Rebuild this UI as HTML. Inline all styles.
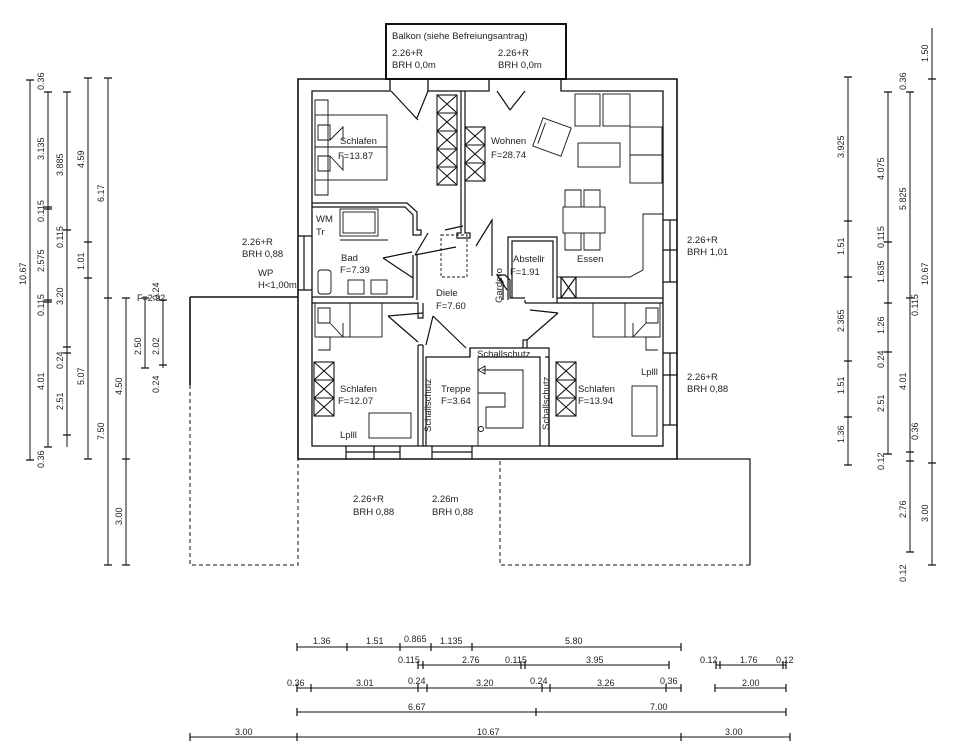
<!DOCTYPE html>
<html><head><meta charset="utf-8"><style>
html,body{margin:0;padding:0;background:#fff;}
svg{display:block;}
text{font-family:"Liberation Sans",sans-serif;font-size:9.5px;fill:#222;stroke:none;font-weight:normal;}
.r text{font-size:9px;}
</style></head><body>
<svg width="960" height="752" viewBox="0 0 960 752" xmlns="http://www.w3.org/2000/svg">
<g fill="none" stroke="#111" stroke-width="1.2">
<!-- outer walls -->
<path d="M390,79 H298 V459 H677 V79 H561 M428,79 H489" stroke-width="1.6"/>
<path d="M390,79 V91 H312 V446 H663 V91 H561 V79 M428,79 V91 H489 V79" stroke-width="1.3"/>
<!-- balcony -->
<rect x="386" y="24" width="180" height="55" stroke-width="2"/>
<!-- windows on left -->
<path d="M304,236 V290 M298,236 H312 M298,290 H312"/>
<!-- windows right -->
<path d="M670,220 V282 M663,220 H677 M663,250 H677 M663,282 H677"/>
<path d="M670,353 V425 M663,353 H677 M663,375 H677 M663,425 H677"/>
<!-- bottom windows -->
<path d="M346,446 V459 M374,446 V459 M400,446 V459 M346,452 H400"/>
<path d="M432,446 V459 M472,446 V459 M432,452 H472"/>
<!-- middle wall upper -->
<path d="M461,91 V233 H457 V238 H470 V233 H465 V91"/>
<!-- upper schlafen / bad wall -->
<path d="M312,203 H407 L417,212 V230 H421 V235 H413 V215 L405,207 H312"/>
<!-- bad right / lower walls -->
<path d="M413,255 V297 H312 M417,255 V300 M312,303 H418 V318 H423 V303"/>
<path d="M418,345 V446 M423,345 V446 M423,345 H418"/>
<!-- treppe -->
<path d="M426,446 V357 H470 V348 H549 V446 M540,446 V357 H478"/>
<path d="M470,348 V357"/>
<path d="M523,348 V340 H527 V348"/>
<!-- right schlafen -->
<path d="M549,446 H663 M549,357 V446 M549,357 H545 M525,303 H663 M525,303 V300"/>
<path d="M503,300 V282 L497,275 H505 L510,280 V298 H525"/>
<!-- abstellr -->
<path d="M508,300 V237 H557 V300 M512,298 V241 H553 V298 M557,298 H663 M557,303 V300"/>
<rect x="561" y="277" width="15" height="21"/><path d="M561,277 L576,298 M576,277 L561,298"/>
<!-- terraces -->
<path d="M190,297 H298 M190,297 V385" stroke-width="1.6"/>
<path d="M190,385 V565 H298 V459" stroke-dasharray="4,3" stroke-width="1"/>
<path d="M677,459 H750 V565" stroke-width="1.2"/>
<path d="M750,565 H500 V459" stroke-dasharray="4,3" stroke-width="1"/>
<!-- doors -->
<path d="M391,91 L418,120 M428,91 L417,118"/>
<path d="M497,91 L510,110 M525,91 L510,110"/>
<path d="M428,233 L415,255 M415,255 L456,247"/>
<path d="M383,258 L413,278 M383,258 L412,252"/>
<path d="M445,230 L463,226 M476,246 L492,220 L492,276"/>
<path d="M388,316 L418,342 M388,316 L423,313"/>
<path d="M433,316 L426,345 M433,316 L466,348"/>
<path d="M558,313 L527,340 M558,313 L530,310"/>
<path d="M497,275 L507,290"/>
<!-- diele dashed -->
<rect x="441" y="235" width="26" height="42" stroke-dasharray="3,2" stroke-width="0.9"/>
<!-- wardrobes -->
<g stroke-width="1.1">
<rect x="437" y="95" width="20" height="90"/>
<path d="M437,113 H457 M437,131 H457 M437,149 H457 M437,167 H457 M437,95 L457,113 M457,95 L437,113 M437,113 L457,131 M457,113 L437,131 M437,131 L457,149 M457,131 L437,149 M437,149 L457,167 M457,149 L437,167 M437,167 L457,185 M457,167 L437,185"/>
<rect x="465" y="127" width="20" height="54"/>
<path d="M465,145 H485 M465,163 H485 M465,127 L485,145 M485,127 L465,145 M465,145 L485,163 M485,145 L465,163 M465,163 L485,181 M485,163 L465,181"/>
<rect x="314" y="362" width="20" height="54"/>
<path d="M314,380 H334 M314,398 H334 M314,362 L334,380 M334,362 L314,380 M314,380 L334,398 M334,380 L314,398 M314,398 L334,416 M334,398 L314,416"/>
<rect x="556" y="362" width="20" height="54"/>
<path d="M556,380 H576 M556,398 H576 M556,362 L576,380 M576,362 L556,380 M556,380 L576,398 M576,380 L556,398 M556,398 L576,416 M576,398 L556,416"/>
</g>
<!-- beds -->
<g stroke-width="0.9">
<rect x="315" y="115" width="72" height="65"/><path d="M315,147 H387 M315,100 H328 V195 H315 Z M328,115 V180 M318,125 H330 V140 H318 Z M318,156 H330 V171 H318 Z M330,140 L343,127 V140 M330,156 L343,170 V156"/>
<rect x="315" y="303" width="67" height="34"/><path d="M318,308 H330 V323 H318 Z M330,323 L343,337 M343,323 V337 M318,337 H330 V350 H318 M350,303 V337"/>
<rect x="593" y="303" width="67" height="34"/><path d="M646,308 H658 V323 H646 Z M646,323 L633,337 M633,323 V337 M658,337 H646 V350 H658 M625,303 V337"/>
<rect x="369" y="413" width="42" height="25"/>
<rect x="632" y="386" width="25" height="50"/>
<!-- bad fixtures -->
<rect x="340" y="209" width="38" height="27"/><rect x="343" y="212" width="32" height="21"/>
<path d="M340,240 H388"/>
<rect x="318" y="270" width="13" height="24" rx="3"/>
<rect x="348" y="280" width="16" height="14"/><rect x="371" y="280" width="16" height="14"/>
<!-- living -->
<rect x="575" y="94" width="25" height="32"/><rect x="603" y="94" width="27" height="32"/>
<rect x="630" y="127" width="32" height="28"/><rect x="630" y="155" width="32" height="28"/>
<rect x="578" y="143" width="42" height="24"/>
<g transform="rotate(20 552 137)"><rect x="537" y="122" width="30" height="30"/><path d="M541,126 V148"/></g>
<rect x="563" y="207" width="42" height="26"/>
<path d="M565,207 V190 H581 V207 M584,207 V190 H600 V207 M565,233 V250 H581 V233 M584,233 V250 H600 V233"/>
<path d="M663,214 H643 V270 L630,277 H557"/>
<!-- stairs -->
<path d="M478,357 V446 M482,370 H523 V428 H486 V407 H505 V393 H478"/>
<path d="M478,370 L485,366 V374 Z"/>
<circle cx="481" cy="429" r="2.5"/>
</g>
<!-- dimension lines -->
<g stroke="#111" stroke-width="1">
<path d="M30,80 V460 M48,92 V447 M67,92 V447 M88,78 V459 M108,78 V565 M126,298 V565 M145,298 V368 M163,300 V368"/>
<path d="M848,77 V465 M888,92 V454 M910,92 V552 M932,28 V565"/>
<path d="M297,647 H681 M418,665 H669 M716,665 H786 M297,688 H681 M715,688 H786 M297,712 H786 M190,737 H790"/>
</g>
<g stroke="#111" stroke-width="1.2">
<path d="M26,80h8M26,460h8 M44,92h8M44,207h8M44,209h8M44,300h8M44,302h8M44,447h8 M63,92h8M63,230h8M63,347h8M63,353h8M63,435h8 M84,78h8M84,242h8M84,278h8M84,459h8 M104,78h8M104,298h8M104,565h8 M122,298h8M122,459h8M122,565h8 M141,298h8M141,368h8 M159,300h8M159,365h8"/>
<path d="M844,77h8M844,221h8M844,277h8M844,361h8M844,417h8M844,465h8 M884,92h8M884,242h8M884,303h8M884,352h8M884,454h8 M906,92h8M906,298h8M906,452h8M906,461h8M906,552h8 M928,79h8M928,463h8M928,565h8"/>
<path d="M297,643v8M347,643v8M400,643v8M431,643v8M472,643v8M681,643v8 M418,661v8M423,661v8M521,661v8M525,661v8M669,661v8M716,661v8M720,661v8M783,661v8M786,661v8 M297,684v8M311,684v8M418,684v8M427,684v8M542,684v8M550,684v8M666,684v8M681,684v8M715,684v8M786,684v8 M297,708v8M536,708v8M786,708v8 M190,733v8M297,733v8M681,733v8M790,733v8"/>
</g>
<!-- vertical dim labels -->
<g class="r">
<text transform="translate(26,285) rotate(-90)">10.67</text>
<text transform="translate(44,90) rotate(-90)">0.36</text>
<text transform="translate(44,160) rotate(-90)">3.135</text>
<text transform="translate(44,222) rotate(-90)">0.115</text>
<text transform="translate(44,272) rotate(-90)">2.575</text>
<text transform="translate(44,316) rotate(-90)">0.115</text>
<text transform="translate(44,390) rotate(-90)">4.01</text>
<text transform="translate(44,468) rotate(-90)">0.36</text>
<text transform="translate(63,176) rotate(-90)">3.885</text>
<text transform="translate(63,248) rotate(-90)">0.115</text>
<text transform="translate(63,305) rotate(-90)">3.20</text>
<text transform="translate(63,369) rotate(-90)">0.24</text>
<text transform="translate(63,410) rotate(-90)">2.51</text>
<text transform="translate(84,168) rotate(-90)">4.59</text>
<text transform="translate(84,270) rotate(-90)">1.01</text>
<text transform="translate(84,385) rotate(-90)">5.07</text>
<text transform="translate(104,202) rotate(-90)">6.17</text>
<text transform="translate(104,440) rotate(-90)">7.50</text>
<text transform="translate(122,395) rotate(-90)">4.50</text>
<text transform="translate(122,525) rotate(-90)">3.00</text>
<text transform="translate(141,355) rotate(-90)">2.50</text>
<text transform="translate(159,355) rotate(-90)">2.02</text>
<text transform="translate(159,393) rotate(-90)">0.24</text>
<text transform="translate(159,300) rotate(-90)">0.24</text>
<text x="137" y="301">F=2.92</text>
<text transform="translate(844,158) rotate(-90)">3.925</text>
<text transform="translate(844,255) rotate(-90)">1.51</text>
<text transform="translate(844,332) rotate(-90)">2.365</text>
<text transform="translate(844,394) rotate(-90)">1.51</text>
<text transform="translate(844,443) rotate(-90)">1.36</text>
<text transform="translate(884,180) rotate(-90)">4.075</text>
<text transform="translate(884,248) rotate(-90)">0.115</text>
<text transform="translate(884,283) rotate(-90)">1.635</text>
<text transform="translate(884,334) rotate(-90)">1.26</text>
<text transform="translate(884,368) rotate(-90)">0.24</text>
<text transform="translate(884,412) rotate(-90)">2.51</text>
<text transform="translate(884,470) rotate(-90)">0.12</text>
<text transform="translate(906,90) rotate(-90)">0.36</text>
<text transform="translate(906,210) rotate(-90)">5.825</text>
<text transform="translate(918,316) rotate(-90)">0.115</text>
<text transform="translate(906,390) rotate(-90)">4.01</text>
<text transform="translate(918,440) rotate(-90)">0.36</text>
<text transform="translate(906,518) rotate(-90)">2.76</text>
<text transform="translate(906,582) rotate(-90)">0.12</text>
<text transform="translate(928,62) rotate(-90)">1.50</text>
<text transform="translate(928,285) rotate(-90)">10.67</text>
<text transform="translate(928,522) rotate(-90)">3.00</text>
</g>
<!-- horizontal dim labels -->
<g class="r">
<text x="313" y="644">1.36</text><text x="366" y="644">1.51</text><text x="404" y="642">0.865</text><text x="440" y="644">1.135</text><text x="565" y="644">5.80</text>
<text x="398" y="663">0.115</text><text x="462" y="663">2.76</text><text x="505" y="663">0.115</text><text x="586" y="663">3.95</text><text x="700" y="663">0.12</text><text x="740" y="663">1.76</text><text x="776" y="663">0.12</text>
<text x="287" y="686">0.36</text><text x="356" y="686">3.01</text><text x="408" y="684">0.24</text><text x="476" y="686">3.20</text><text x="530" y="684">0.24</text><text x="597" y="686">3.26</text><text x="660" y="684">0.36</text><text x="742" y="686">2.00</text>
<text x="408" y="710">6.67</text><text x="650" y="710">7.00</text>
<text x="235" y="735">3.00</text><text x="477" y="735">10.67</text><text x="725" y="735">3.00</text>
</g>
<!-- room labels -->
<text x="392" y="39">Balkon (siehe Befreiungsantrag)</text>
<text x="392" y="56">2.26+R</text><text x="392" y="68">BRH 0,0m</text>
<text x="498" y="56">2.26+R</text><text x="498" y="68">BRH 0,0m</text>
<text x="340" y="144">Schlafen</text><text x="338" y="159">F=13.87</text>
<text x="491" y="144">Wohnen</text><text x="491" y="158">F=28.74</text>
<text x="316" y="222">WM</text><text x="316" y="235">Tr</text>
<text x="341" y="261">Bad</text><text x="340" y="273">F=7.39</text>
<text x="436" y="296">Diele</text><text x="436" y="309">F=7.60</text>
<text x="513" y="262">Abstellr</text><text x="510" y="275">F=1.91</text>
<text x="577" y="262">Essen</text>
<text transform="translate(502,303) rotate(-90)">Gardero</text>
<text x="477" y="357">Schallschutz</text>
<text transform="translate(431,432) rotate(-90)">Schallschutz</text>
<text transform="translate(549,430) rotate(-90)">Schallschutz</text>
<text x="340" y="392">Schlafen</text><text x="338" y="404">F=12.07</text>
<text x="441" y="392">Treppe</text><text x="441" y="404">F=3.64</text>
<text x="578" y="392">Schlafen</text><text x="578" y="404">F=13.94</text>
<text x="340" y="438">Lplll</text><text x="641" y="375">Lplll</text>
<text x="242" y="245">2.26+R</text><text x="242" y="257">BRH 0,88</text>
<text x="258" y="276">WP</text><text x="258" y="288">H&lt;1,00m</text>
<text x="687" y="243">2.26+R</text><text x="687" y="255">BRH 1,01</text>
<text x="687" y="380">2.26+R</text><text x="687" y="392">BRH 0,88</text>
<text x="353" y="502">2.26+R</text><text x="353" y="515">BRH 0,88</text>
<text x="432" y="502">2.26m</text><text x="432" y="515">BRH 0,88</text>
</svg>
</body></html>
